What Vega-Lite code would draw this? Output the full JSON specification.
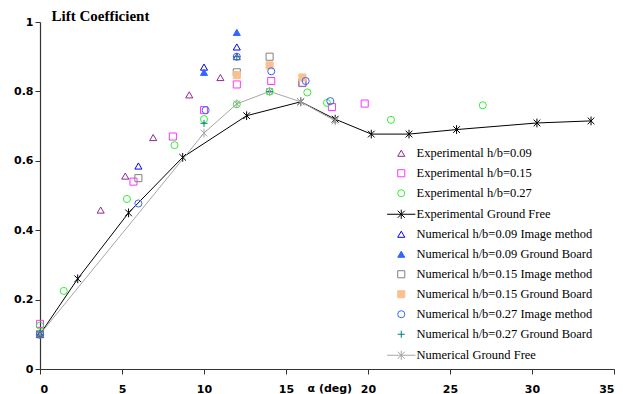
{
  "$schema": "https://vega.github.io/schema/vega-lite/v6.json",
  "width": 574,
  "height": 347,
  "autosize": {"type": "none"},
  "padding": {"left": 40, "top": 22, "right": 15, "bottom": 25},
  "background": "white",
  "config": {"view": {"stroke": null}},
  "data": {"values": [
    {"s": "Experimental h/b=0.09", "x": 0, "y": 0.10},
    {"s": "Experimental h/b=0.09", "x": 3.7, "y": 0.458},
    {"s": "Experimental h/b=0.09", "x": 5.2, "y": 0.556},
    {"s": "Experimental h/b=0.09", "x": 6.9, "y": 0.667},
    {"s": "Experimental h/b=0.09", "x": 9.1, "y": 0.79},
    {"s": "Experimental h/b=0.09", "x": 11.0, "y": 0.84},
    {"s": "Experimental h/b=0.09", "x": 12.0, "y": 0.90},
    {"s": "Experimental h/b=0.15", "x": 0, "y": 0.13},
    {"s": "Experimental h/b=0.15", "x": 5.7, "y": 0.54},
    {"s": "Experimental h/b=0.15", "x": 8.1, "y": 0.67},
    {"s": "Experimental h/b=0.15", "x": 10.0, "y": 0.746},
    {"s": "Experimental h/b=0.15", "x": 12.0, "y": 0.82},
    {"s": "Experimental h/b=0.15", "x": 14.1, "y": 0.83},
    {"s": "Experimental h/b=0.15", "x": 16.0, "y": 0.824},
    {"s": "Experimental h/b=0.15", "x": 17.8, "y": 0.755},
    {"s": "Experimental h/b=0.15", "x": 19.8, "y": 0.765},
    {"s": "Experimental h/b=0.27", "x": 0, "y": 0.125},
    {"s": "Experimental h/b=0.27", "x": 1.45, "y": 0.225},
    {"s": "Experimental h/b=0.27", "x": 5.3, "y": 0.49},
    {"s": "Experimental h/b=0.27", "x": 8.2, "y": 0.645},
    {"s": "Experimental h/b=0.27", "x": 10.0, "y": 0.72},
    {"s": "Experimental h/b=0.27", "x": 12.0, "y": 0.763},
    {"s": "Experimental h/b=0.27", "x": 14.0, "y": 0.80},
    {"s": "Experimental h/b=0.27", "x": 16.3, "y": 0.797},
    {"s": "Experimental h/b=0.27", "x": 17.5, "y": 0.767},
    {"s": "Experimental h/b=0.27", "x": 21.4, "y": 0.718},
    {"s": "Experimental h/b=0.27", "x": 27.0, "y": 0.76},
    {"s": "Experimental Ground Free", "x": 0, "y": 0.10},
    {"s": "Experimental Ground Free", "x": 2.3, "y": 0.26},
    {"s": "Experimental Ground Free", "x": 5.4, "y": 0.45},
    {"s": "Experimental Ground Free", "x": 8.7, "y": 0.61},
    {"s": "Experimental Ground Free", "x": 12.6, "y": 0.73},
    {"s": "Experimental Ground Free", "x": 15.9, "y": 0.77},
    {"s": "Experimental Ground Free", "x": 18.0, "y": 0.72},
    {"s": "Experimental Ground Free", "x": 20.2, "y": 0.677},
    {"s": "Experimental Ground Free", "x": 22.5, "y": 0.677},
    {"s": "Experimental Ground Free", "x": 25.4, "y": 0.69},
    {"s": "Experimental Ground Free", "x": 30.3, "y": 0.709},
    {"s": "Experimental Ground Free", "x": 33.6, "y": 0.715},
    {"s": "Numerical h/b=0.09 Image method", "x": 0, "y": 0.10},
    {"s": "Numerical h/b=0.09 Image method", "x": 6.0, "y": 0.585},
    {"s": "Numerical h/b=0.09 Image method", "x": 10.0, "y": 0.87},
    {"s": "Numerical h/b=0.09 Image method", "x": 12.0, "y": 0.928},
    {"s": "Numerical h/b=0.09 Ground Board", "x": 0, "y": 0.10},
    {"s": "Numerical h/b=0.09 Ground Board", "x": 10.0, "y": 0.855},
    {"s": "Numerical h/b=0.09 Ground Board", "x": 12.0, "y": 0.97},
    {"s": "Numerical h/b=0.15 Image method", "x": 0, "y": 0.10},
    {"s": "Numerical h/b=0.15 Image method", "x": 6.0, "y": 0.55},
    {"s": "Numerical h/b=0.15 Image method", "x": 12.0, "y": 0.855},
    {"s": "Numerical h/b=0.15 Image method", "x": 14.0, "y": 0.90},
    {"s": "Numerical h/b=0.15 Image method", "x": 16.0, "y": 0.825},
    {"s": "Numerical h/b=0.15 Ground Board", "x": 12.0, "y": 0.847},
    {"s": "Numerical h/b=0.15 Ground Board", "x": 14.0, "y": 0.875},
    {"s": "Numerical h/b=0.15 Ground Board", "x": 16.0, "y": 0.84},
    {"s": "Numerical h/b=0.27 Image method", "x": 0, "y": 0.10},
    {"s": "Numerical h/b=0.27 Image method", "x": 6.0, "y": 0.477},
    {"s": "Numerical h/b=0.27 Image method", "x": 10.1, "y": 0.746},
    {"s": "Numerical h/b=0.27 Image method", "x": 12.0, "y": 0.90},
    {"s": "Numerical h/b=0.27 Image method", "x": 14.1, "y": 0.858},
    {"s": "Numerical h/b=0.27 Image method", "x": 16.2, "y": 0.83},
    {"s": "Numerical h/b=0.27 Image method", "x": 17.7, "y": 0.772},
    {"s": "Numerical h/b=0.27 Ground Board", "x": 0, "y": 0.10},
    {"s": "Numerical h/b=0.27 Ground Board", "x": 10.0, "y": 0.708},
    {"s": "Numerical h/b=0.27 Ground Board", "x": 12.0, "y": 0.90},
    {"s": "Numerical h/b=0.27 Ground Board", "x": 14.0, "y": 0.80},
    {"s": "Numerical Ground Free", "x": 0, "y": 0.10},
    {"s": "Numerical Ground Free", "x": 10.0, "y": 0.68},
    {"s": "Numerical Ground Free", "x": 12.0, "y": 0.764},
    {"s": "Numerical Ground Free", "x": 14.0, "y": 0.80},
    {"s": "Numerical Ground Free", "x": 15.9, "y": 0.77},
    {"s": "Numerical Ground Free", "x": 18.0, "y": 0.715}
  ]},
  "encoding": {
    "x": {
      "field": "x", "type": "quantitative",
      "scale": {"domain": [0, 35], "nice": false, "zero": false},
      "axis": {
        "values": [0, 5, 10, 15, 20, 25, 30, 35],
        "grid": false,
        "domainColor": "#333333", "domainWidth": 1.2,
        "tickColor": "#333333", "tickSize": 5, "tickWidth": 1,
        "labelFont": "DejaVu Sans", "labelFontWeight": "bold", "labelFontSize": 11, "labelColor": "black",
        "labelPadding": 9,
        "title": "α (deg)",
        "titleFont": "DejaVu Sans", "titleFontWeight": "bold", "titleFontSize": 11, "titleColor": "black",
        "titleAnchor": "start", "titleAlign": "left", "titleBaseline": "alphabetic",
        "titleX": 267, "titleY": 22
      }
    },
    "y": {
      "field": "y", "type": "quantitative",
      "scale": {"domain": [0, 1], "nice": false},
      "axis": {
        "values": [0, 0.2, 0.4, 0.6, 0.8, 1],
        "format": "~g",
        "grid": false,
        "domainColor": "#333333", "domainWidth": 1.2,
        "tickColor": "#333333", "tickSize": 5, "tickWidth": 1,
        "labelFont": "DejaVu Sans", "labelFontWeight": "bold", "labelFontSize": 11, "labelColor": "black",
        "labelPadding": 2,
        "title": "Lift Coefficient",
        "titleFont": "Liberation Serif", "titleFontWeight": "bold", "titleFontSize": 15, "titleColor": "black",
        "titleAngle": 0, "titleAnchor": "start", "titleAlign": "left", "titleBaseline": "alphabetic",
        "titleX": 11, "titleY": -2
      }
    }
  },
  "layer": [
    {
      "transform": [{"filter": "datum.s === 'Experimental Ground Free'"}],
      "mark": {"type": "line", "color": "black", "strokeWidth": 1},
      "encoding": {}
    },
    {
      "transform": [{"filter": "datum.s === 'Numerical Ground Free'"}],
      "mark": {"type": "line", "color": "#a6a6a6", "strokeWidth": 1},
      "encoding": {}
    },
    {
      "transform": [{"filter": "indexof(datum.s, 'Ground Free') < 0"}],
      "mark": {"type": "point", "size": 50, "strokeWidth": 1, "opacity": 1},
      "encoding": {
        "stroke": {
          "field": "s", "type": "nominal",
          "scale": {
            "domain": ["Experimental h/b=0.09", "Experimental h/b=0.15", "Experimental h/b=0.27", "Experimental Ground Free", "Numerical h/b=0.09 Image method", "Numerical h/b=0.09 Ground Board", "Numerical h/b=0.15 Image method", "Numerical h/b=0.15 Ground Board", "Numerical h/b=0.27 Image method", "Numerical h/b=0.27 Ground Board", "Numerical Ground Free"],
            "range": ["#8e2a8e", "#ff33ff", "#33ee33", "#000000", "#0000ff", "#3366ff", "#808080", "#fac090", "#3366ff", "#008080", "#a6a6a6"]
          },
          "legend": {
            "title": null, "orient": "none", "legendX": 355, "legendY": 125,
            "labelFont": "Liberation Serif", "labelFontSize": 12.5, "labelColor": "black", "labelLimit": 400,
            "labelOffset": 9, "rowPadding": 7, "symbolSize": 50, "symbolStrokeWidth": 1, "padding": 0
          }
        },
        "fill": {
          "field": "s", "type": "nominal",
          "scale": {
            "domain": ["Experimental h/b=0.09", "Experimental h/b=0.15", "Experimental h/b=0.27", "Experimental Ground Free", "Numerical h/b=0.09 Image method", "Numerical h/b=0.09 Ground Board", "Numerical h/b=0.15 Image method", "Numerical h/b=0.15 Ground Board", "Numerical h/b=0.27 Image method", "Numerical h/b=0.27 Ground Board", "Numerical Ground Free"],
            "range": ["transparent", "transparent", "transparent", "transparent", "transparent", "#3366ff", "transparent", "#fac090", "transparent", "transparent", "transparent"]
          },
          "legend": {
            "title": null, "orient": "none", "legendX": 355, "legendY": 125,
            "labelFont": "Liberation Serif", "labelFontSize": 12.5, "labelColor": "black", "labelLimit": 400,
            "labelOffset": 9, "rowPadding": 7, "symbolSize": 50, "symbolStrokeWidth": 1, "padding": 0
          }
        },
        "shape": {
          "field": "s", "type": "nominal",
          "scale": {
            "domain": ["Experimental h/b=0.09", "Experimental h/b=0.15", "Experimental h/b=0.27", "Experimental Ground Free", "Numerical h/b=0.09 Image method", "Numerical h/b=0.09 Ground Board", "Numerical h/b=0.15 Image method", "Numerical h/b=0.15 Ground Board", "Numerical h/b=0.27 Image method", "Numerical h/b=0.27 Ground Board", "Numerical Ground Free"],
            "range": ["triangle-up", "square", "circle", "M-4,0L4,0M-1,-1L1,1M-1,1L1,-1M0,-1.3L0,1.3", "triangle-up", "triangle-up", "square", "square", "circle", "M-1,0L1,0M0,-1L0,1", "M-4,0L4,0M-1,-1L1,1M-1,1L1,-1M0,-1.3L0,1.3"]
          },
          "legend": {
            "title": null, "orient": "none", "legendX": 355, "legendY": 125,
            "labelFont": "Liberation Serif", "labelFontSize": 12.5, "labelColor": "black", "labelLimit": 400,
            "labelOffset": 9, "rowPadding": 7, "symbolSize": 50, "symbolStrokeWidth": 1, "padding": 0
          }
        }
      }
    },
    {
      "transform": [{"filter": "datum.s === 'Experimental Ground Free'"}],
      "mark": {"type": "point", "shape": "M-1,-1L1,1M-1,1L1,-1M0,-1.3L0,1.3", "size": 45, "color": "black", "filled": false, "strokeWidth": 1, "opacity": 1},
      "encoding": {}
    },
    {
      "transform": [{"filter": "datum.s === 'Numerical Ground Free'"}],
      "mark": {"type": "point", "shape": "M-1,-1L1,1M-1,1L1,-1M0,-1.3L0,1.3", "size": 45, "color": "#a6a6a6", "filled": false, "strokeWidth": 1, "opacity": 1},
      "encoding": {}
    }
  ]
}
